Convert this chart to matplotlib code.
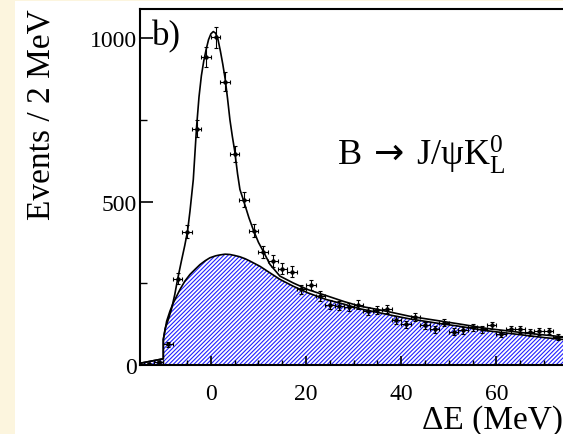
import matplotlib
matplotlib.use("Agg")
import matplotlib.pyplot as plt
from matplotlib.patches import Rectangle
from matplotlib.ticker import MultipleLocator

# ---- data ----
bin_centers = [-13, -11, -9, -7, -5, -3, -1, 1, 3, 5, 7, 9, 11, 13, 15, 17, 19, 21, 23,
               25, 27, 29, 31, 33, 35, 37, 39, 41, 43, 45, 47, 49, 51, 53, 55, 57, 59,
               61, 63, 65, 67, 69, 71, 73]
counts = [3, 8, 63, 264, 408, 723, 943, 1003, 866, 646, 506, 411, 345, 318, 295, 285,
          231, 244, 212, 185, 182, 178, 185, 165, 168, 172, 137, 125, 146, 121, 109,
          129, 102, 106, 115, 109, 121, 96, 109, 109, 100, 103, 104, 86]
count_err = [2, 3, 8, 16, 20, 27, 31, 32, 29, 25, 22, 20, 19, 18, 17, 17, 15, 16, 15,
             14, 13, 13, 14, 13, 13, 13, 12, 11, 12, 11, 10, 11, 10, 10, 11, 10, 11,
             10, 10, 10, 10, 10, 10, 9]
bin_half_width = 1.0

bkg_x = [-15, -10.0, -10.0, -9.6, -9.3, -8.6, -7.9, -6.5, -5.5, -4.4, -3.3, -2.3, -1.2,
         -0.2, 1.0, 2.0, 3.0, 4.0, 5.0, 6.1, 7.2, 8.2, 10.3, 12.4, 14.5, 17.3, 20.5,
         24.3, 28, 31.3, 35, 38.3, 41.8, 44, 48, 52, 57.9, 62, 66, 70, 74, 76]
bkg_y = [5, 19, 78, 110, 134, 165, 190, 231, 256, 277, 293, 307, 319, 328, 334, 337,
         339, 338, 335, 331, 325, 318, 302, 282, 262, 241, 220, 200, 186, 172, 161,
         151, 141, 136, 127, 119, 105, 98, 91, 84, 78, 75]

tot_x = [-15, -10.0, -10.0, -9.6, -9.0, -8.3, -7.6, -7.0, -6.2, -5.5, -4.9, -4.4, -3.7,
         -3.0, -2.5, -2.0, -1.5, -1.0, -0.5, 0.0, 0.5, 1.0, 1.5, 2.0, 2.5, 3.0, 3.5,
         4.0, 4.5, 5.0, 5.6, 6.1, 6.8, 8.0, 8.9, 10.0, 11.0, 12.4, 14.5, 17.3, 20.5,
         24.3, 28, 31.3, 35, 38.3, 41.8, 44, 48, 52, 57.9, 62, 66, 70, 74, 76]
tot_y = [5, 19, 78, 112, 137, 170, 215, 262, 318, 365, 410, 470, 567, 730, 820, 885,
         930, 965, 995, 1013, 1020, 1015, 995, 960, 920, 875, 815, 750, 700, 655, 585,
         537, 506, 450, 414, 375, 348, 308, 272, 251, 230, 212, 194, 180, 170, 160,
         149, 144, 135, 126, 112, 105, 98, 92, 86, 83]

x_major = [0, 20, 40, 60]
y_major = [0, 500, 1000]

# ---- style ----
plt.rcParams['font.family'] = ['Liberation Serif', 'DejaVu Serif']
plt.rcParams['mathtext.fontset'] = 'custom'
plt.rcParams['mathtext.rm'] = 'Liberation Serif'
plt.rcParams['mathtext.it'] = 'Liberation Serif:italic'
plt.rcParams['mathtext.bf'] = 'Liberation Serif:bold'
plt.rcParams['mathtext.sf'] = 'DejaVu Sans'
plt.rcParams['hatch.linewidth'] = 0.8

W, H = 563, 435
fig = plt.figure(figsize=(W / 100, H / 100), dpi=100, facecolor='#fcf5de')
fig.add_artist(Rectangle((15 / W, 0), 1, 433 / H, transform=fig.transFigure,
                         facecolor='white', edgecolor='none', zorder=-10))

ax = fig.add_axes([140 / W, (H - 366) / H, 423 / W, 356 / H])
ax.set_facecolor('white')

ax.fill_between(bkg_x, 0, bkg_y, facecolor='white', edgecolor='#2020ff',
                hatch='////////', linewidth=0, zorder=1)
ax.plot(bkg_x, bkg_y, color='black', lw=1.2, zorder=2)
ax.plot(tot_x, tot_y, color='black', lw=1.2, zorder=2)
ax.errorbar(bin_centers, counts, yerr=count_err, xerr=bin_half_width, fmt='o',
            ms=2.2, color='black', elinewidth=0.8, capsize=1.6, capthick=0.8,
            zorder=3)

ax.set_xlim(-14.9, 74.0)
ax.set_ylim(0, 1089)

for s in ['left', 'bottom', 'top']:
    ax.spines[s].set_linewidth(1.5)
ax.spines['right'].set_visible(False)

ax.set_xticks(x_major)
ax.set_yticks(y_major)
ax.xaxis.set_minor_locator(MultipleLocator(5))
ax.yaxis.set_minor_locator(MultipleLocator(250))
ax.tick_params(axis='x', which='major', direction='in', length=6.5, width=1.2,
               labelsize=17, pad=13, top=False)
ax.tick_params(axis='x', which='minor', direction='in', length=3.3, width=1.0, top=False)
ax.tick_params(axis='y', which='major', direction='in', length=9.4, width=1.2,
               labelsize=17, pad=2, right=False)
ax.tick_params(axis='y', which='minor', direction='in', length=5, width=1.0, right=False)

fig.text(41 / W, 1 - 115 / H, 'Events / 2 MeV', rotation=90, ha='center',
         va='center', fontsize=24)
fig.text(422 / W, (H - 429) / H, 'ΔE (MeV)', ha='left', va='baseline', fontsize=24)
fig.text(152 / W, (H - 45) / H, 'b)', ha='left', va='baseline', fontsize=25)
fig.text(337 / W, (H - 165) / H,
         r'$\mathrm{B\;\mathsf{\rightarrow}\;J/\psi K_{L}^{0}}$',
         ha='left', va='baseline', fontsize=26)

fig.savefig('out.png', dpi=100, facecolor=fig.get_facecolor())
